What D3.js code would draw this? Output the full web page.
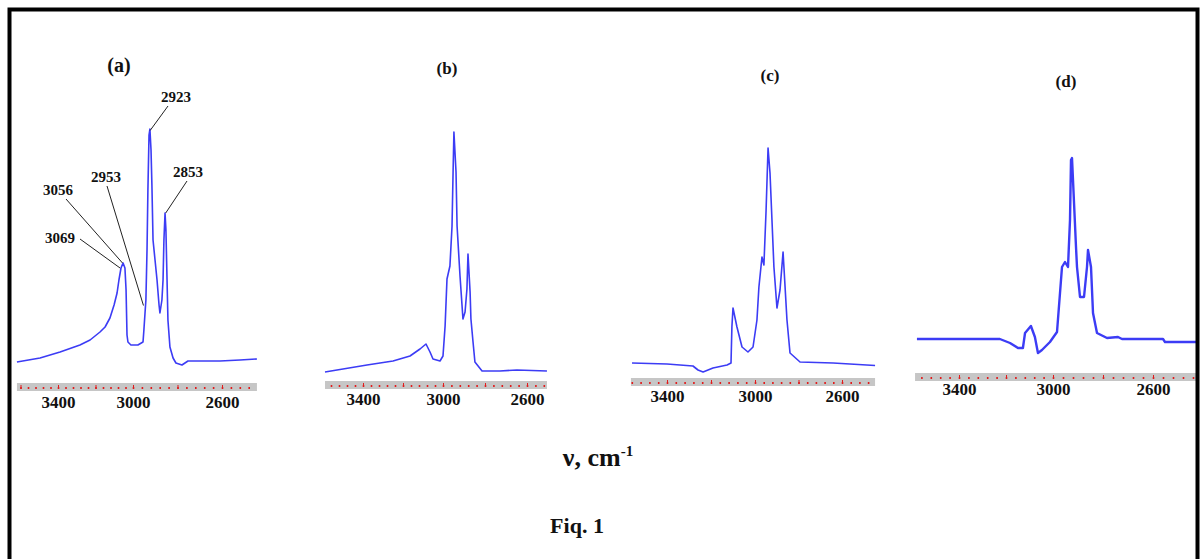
<!DOCTYPE html>
<html>
<head>
<meta charset="utf-8">
<script src="https://cdn.jsdelivr.net/npm/d3@7"></script>
<style>
body{margin:0;background:#fff;}
text{font-family:"Liberation Serif","Times New Roman",serif;font-weight:bold;}
</style>
</head>
<body>
<div id="chart"></div>
<script>
// tick labels shared by all four spectra
const tickLabels = [3400, 3000, 2600];

// spectrum (a)
const aWave = [3619,3496,3389,3283,3229,3176,3149,3123,3101,3085,3075,3064,3053,3043,3037,3032,3027,3011,2978,2955,2951,2946,2942,2937,2933,2928,2924,2919,2915,2910,2901,2892,2883,2879,2870,2865,2861,2856,2852,2847,2843,2834,2820,2807,2780,2753,2699,2609,2519,2443];
const aAbs  = [8.4,10,12.4,15.2,17.2,20.4,22.4,26,31.2,36,41.2,46,48,46,37.2,19.2,16.4,15.2,15.2,16.4,21.2,28,33.2,53.2,77.2,99.2,101.6,93.2,79.2,57.2,49.2,41.2,31.2,28,33.2,41.2,57.2,68,61.2,41.2,25.2,14.4,10,8,7.2,8.8,8.8,8.8,9.2,9.6];
// spectrum (b)
const bWave = [3590,3380,3250,3165,3115,3085,3065,3050,3015,3000,2990,2981,2967,2957,2952,2948,2938,2933,2919,2905,2895,2886,2881,2871,2867,2857,2848,2814,2729,2648,2505];
const bAbs  = [3.6,6.4,8,10,12.8,14.8,11.6,8.8,8,10,22,40.8,46,62,83.6,99.6,83.6,62,42,24.8,27.6,36.8,50.8,35.6,24.8,15.6,7.6,4,4,4.4,4];
// spectrum (c)
const cWave = [3559,3400,3282,3259,3236,3191,3127,3109,3105,3100,3082,3059,3032,3009,2991,2982,2968,2959,2949,2940,2931,2922,2913,2899,2885,2871,2867,2853,2839,2793,2641,2448];
const cAbs  = [6,5.6,4.8,3.2,2.4,4,5.2,6,20.4,28,20.4,12.4,10.4,12.4,23.2,36.4,48.4,45.2,67.2,92,82,63.2,44.4,28,35.2,50.4,44.4,23.2,10,6.4,6,5];
// spectrum (d)
const dWave = [3579,3226,3183,3149,3128,3119,3094,3077,3064,3047,3013,2984,2964,2952,2940,2932,2928,2924,2920,2908,2904,2892,2876,2864,2860,2848,2840,2824,2784,2740,2724,2560,2552,2420];
const dAbs  = [13.6,13.6,12,10,10,16,18.8,14.4,8,9.2,12.4,16.4,42.4,44.4,42.4,61.2,85.2,86,77.2,50.4,42.4,30.4,30.4,42.4,49.2,42.4,24,16,14,14.4,13.6,13.6,12.4,12.4];

// axis extents of each strip
const aRange = [3619, 2443], bRange = [3590, 2505], cRange = [3564, 2448], dRange = [3587, 2420];

// peak annotations on (a)
const peakNames = ["3069", "3056", "2953", "2923", "2853"];
const peakWave  = [3069, 3056, 2953, 2923, 2853];
const peakAbs   = [46, 48, 31, 101, 68];

const width = 1201, height = 559;

const svg = d3.select("#chart").append("svg")
  .attr("width", width)
  .attr("height", height);

const panels = [
  {name:"(a)", wave:aWave, abs:aAbs, ext:aRange, px:[58,133,222], top:383, lab:408, lw:1.6, tx:119, ty:72, ts:20},
  {name:"(b)", wave:bWave, abs:bAbs, ext:bRange, px:[363,443,527], top:381, lab:405, lw:1.6, tx:447, ty:74, ts:17},
  {name:"(c)", wave:cWave, abs:cAbs, ext:cRange, px:[667,755,842], top:378, lab:402, lw:1.6, tx:770, ty:81, ts:17},
  {name:"(d)", wave:dWave, abs:dAbs, ext:dRange, px:[959,1053,1153], top:373, lab:395, lw:2.4, tx:1066, ty:87, ts:17}
];

let scaleA, yA;

panels.forEach((p, i) => {
  // the printed scale is not uniform, so use a piecewise scale through the labels
  const x = d3.scaleLinear().domain(tickLabels).range(p.px);
  const y = d3.scaleLinear().domain([0, 100]).range([p.top, p.top - 250]);
  if (i === 0) { scaleA = x; yA = y; }

  const g = svg.append("g");

  // grey ruler strip
  g.append("rect")
    .attr("x", x(p.ext[0]))
    .attr("y", p.top)
    .attr("width", x(p.ext[1]) - x(p.ext[0]))
    .attr("height", 8)
    .attr("fill", "#c6c6c6");

  const minor = d3.range(2400, 3700, 40).filter(v => v <= p.ext[0] && v >= p.ext[1]);
  const major = d3.range(2400, 3700, 200).filter(v => v <= p.ext[0] && v >= p.ext[1]);

  const mAxis = g.append("g")
    .attr("transform", "translate(0," + (p.top + 4) + ")")
    .call(d3.axisBottom(x).tickValues(minor).tickSize(2).tickFormat(""));
  mAxis.select(".domain").remove();
  mAxis.selectAll("line").attr("stroke", "#e21b1b").attr("stroke-width", 1.6);

  const MAxis = g.append("g")
    .attr("transform", "translate(0," + (p.top + 2) + ")")
    .call(d3.axisBottom(x).tickValues(major).tickSize(4).tickFormat(""));
  MAxis.select(".domain").remove();
  MAxis.selectAll("line").attr("stroke", "#e21b1b").attr("stroke-width", 1);

  const lAxis = g.append("g")
    .attr("transform", "translate(0," + (p.top + 8) + ")")
    .call(d3.axisBottom(x).tickValues(tickLabels).tickSize(0)
      .tickFormat(d3.format("d"))
      .tickPadding(p.lab - p.top - 8 - 12));
  lAxis.select(".domain").remove();
  lAxis.selectAll("text")
    .attr("font-family", "Liberation Serif, serif")
    .attr("font-weight", "bold")
    .attr("font-size", 17)
    .attr("fill", "#111");

  // spectrum
  const line = d3.line().x(d => x(d[0])).y(d => y(d[1]));
  g.append("path")
    .datum(d3.zip(p.wave, p.abs))
    .attr("d", line)
    .attr("fill", "none")
    .attr("stroke", "#3c3cf5")
    .attr("stroke-width", p.lw)
    .attr("stroke-linejoin", "round");

  g.append("text")
    .attr("x", p.tx)
    .attr("y", p.ty)
    .attr("text-anchor", "middle")
    .attr("font-size", p.ts)
    .attr("fill", "#111")
    .text(p.name);
});

// peak labels with leader lines on (a)
const labelPos = [[60, 243, 80, 239], [58, 195, 66, 199], [106, 182, 107, 186], [176, 102, 168, 106], [188, 177, 187, 181]];
peakNames.forEach((n, i) => {
  const lp = labelPos[i];
  svg.append("line")
    .attr("x1", lp[2]).attr("y1", lp[3])
    .attr("x2", scaleA(peakWave[i])).attr("y2", yA(peakAbs[i]))
    .attr("stroke", "#222")
    .attr("stroke-width", 1);
  svg.append("text")
    .attr("x", lp[0])
    .attr("y", lp[1])
    .attr("text-anchor", "middle")
    .attr("font-size", 15)
    .attr("fill", "#111")
    .text(n);
});

// common axis title
const xt = svg.append("text")
  .attr("x", 598)
  .attr("y", 466)
  .attr("text-anchor", "middle")
  .attr("font-size", 26)
  .attr("fill", "#111");
xt.append("tspan").text("ν, cm");
xt.append("tspan").attr("dy", -10).attr("font-size", 15).text("-1");

svg.append("text")
  .attr("x", 577)
  .attr("y", 533)
  .attr("text-anchor", "middle")
  .attr("font-size", 22)
  .attr("fill", "#111")
  .text("Fiq. 1");

// frame
svg.append("rect")
  .attr("x", 9.5)
  .attr("y", 9.5)
  .attr("width", 1188)
  .attr("height", 600)
  .attr("fill", "none")
  .attr("stroke", "#000")
  .attr("stroke-width", 4);
</script>
</body>
</html>
